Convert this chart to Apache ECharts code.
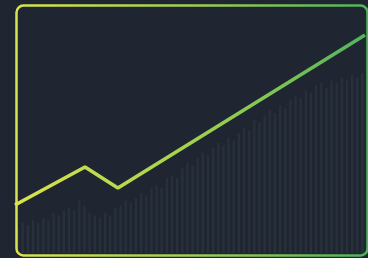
<!DOCTYPE html>
<html lang="en">
<head>
    <meta charset="UTF-8">
    <title>trend</title>
    <style>
        html, body { margin: 0; padding: 0; background: #1f2632; }
        #main { width: 368px; height: 258px; }
    </style>
</head>
<body>
<div id="main"></div>
<script src="https://cdn.jsdelivr.net/npm/echarts@6/dist/echarts.min.js"></script>
<script>
    // main trend line: [x, y] in 0..100 units
    var lineX = [0, 20, 29.4, 100];
    var lineY = [19.2, 34.4, 26, 87.2];

    // faint background bars (estimated heights, 0..100)
    var barValues = [
        10, 12, 11, 13, 12, 14, 13, 16, 15, 17,
        18, 17, 21, 19, 16, 15, 14, 16, 15, 18,
        19, 21, 20, 22, 24, 23, 26, 27, 26, 30,
        31, 30, 34, 36, 35, 38, 40, 39, 42, 44,
        43, 46, 45, 48, 50, 49, 53, 52, 55, 57,
        56, 59, 58, 61, 63, 62, 65, 64, 67, 68,
        66, 69, 68, 70, 69, 71, 70, 72
    ];

    var myChart = echarts.init(document.getElementById('main'));

    var lineData = lineX.map(function (x, i) { return [x, lineY[i]]; });
    var barCats = barValues.map(function (v, i) { return i; });

    var option = {
        backgroundColor: '#1f2632',
        animation: false,
        grid: { left: 15, right: 3, top: 3, bottom: 5 },
        graphic: [{
            type: 'rect',
            left: 14, top: 3,
            shape: { width: 351, height: 250, r: 7 },
            z: 10,
            style: {
                fill: 'none',
                lineWidth: 2.5,
                stroke: new echarts.graphic.LinearGradient(0, 0, 1, 0, [
                    { offset: 0, color: '#d9e44c' },
                    { offset: 0.5, color: '#9fd050' },
                    { offset: 1, color: '#4fb25c' }
                ])
            }
        }],
        xAxis: [{
            type: 'value', min: 0, max: 100, show: false
        }, {
            type: 'category', data: barCats, show: false, boundaryGap: true
        }],
        yAxis: {
            type: 'value', min: 0, max: 100, show: false
        },
        series: [{
            type: 'bar',
            xAxisIndex: 1,
            data: barValues,
            barCategoryGap: '55%',
            itemStyle: { color: '#27303b' },
            silent: true
        }, {
            type: 'line',
            xAxisIndex: 0,
            data: lineData,
            symbol: 'none',
            z: 5,
            lineStyle: {
                width: 3.5,
                color: new echarts.graphic.LinearGradient(0, 0, 1, 0, [
                    { offset: 0, color: '#dbe44a' },
                    { offset: 0.5, color: '#a3d24f' },
                    { offset: 1, color: '#52b45c' }
                ])
            }
        }]
    };

    myChart.setOption(option);
</script>
</body>
</html>
